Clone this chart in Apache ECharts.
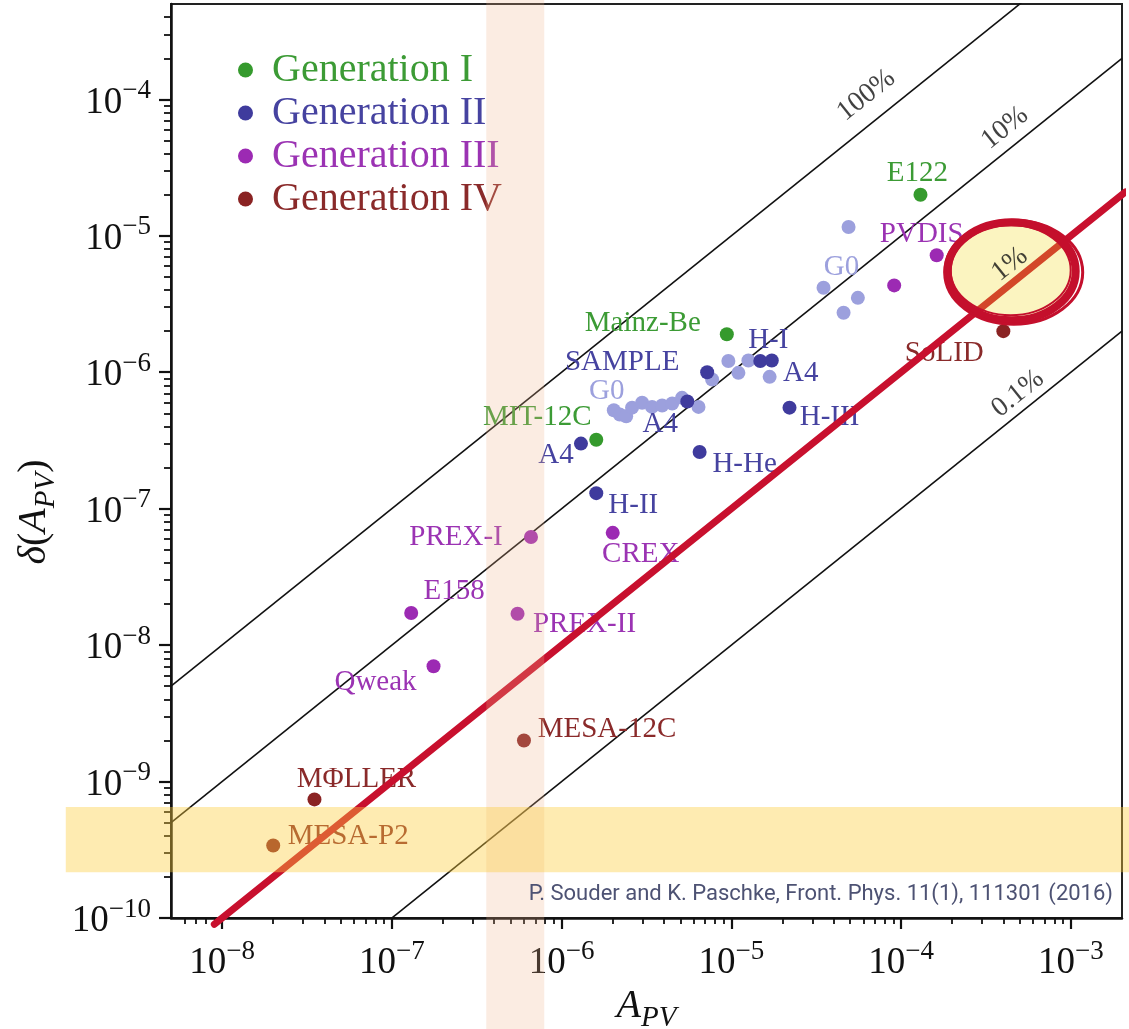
<!DOCTYPE html>
<html><head><meta charset="utf-8">
<script src="https://cdn.jsdelivr.net/npm/echarts@6/dist/echarts.min.js"></script>
<style>html,body{margin:0;padding:0;background:#fff}#c{width:1129px;height:1029px}</style>
</head><body><div id="c"></div>
<script>
// ---------------- data ----------------
const genI_names = ['E122', 'Mainz-Be', 'MIT-12C'];
const genI_x = [1.3e-4, 9.4e-6, 1.6e-6];
const genI_y = [2.0e-5, 1.9e-6, 3.2e-7];

const genII_names = ['SAMPLE', 'H-I', 'A4', 'A4', 'H-III', 'A4', 'H-He', 'H-II'];
const genII_x = [7.2e-6, 1.48e-5, 1.73e-5, 5.5e-6, 2.2e-5, 1.3e-6, 6.5e-6, 1.6e-6];
const genII_y = [1.0e-6, 1.21e-6, 1.22e-6, 6.1e-7, 5.5e-7, 3.0e-7, 2.6e-7, 1.3e-7];

const g0_names = ['', '', '', '', '', '', 'G0', '', '', '', '', '', '', '', '', '', 'G0', '', ''];
const g0_x = [9.6e-6, 1.26e-5, 1.10e-5, 7.7e-6, 1.68e-5, 6.4e-6, 2.03e-6, 2.2e-6, 2.4e-6, 2.6e-6, 2.98e-6, 3.41e-6, 3.91e-6, 4.48e-6, 5.12e-6, 4.9e-5, 3.49e-5, 5.56e-5, 4.58e-5];
const g0_y = [1.21e-6, 1.22e-6, 9.9e-7, 8.85e-7, 9.25e-7, 5.57e-7, 5.26e-7, 4.9e-7, 4.75e-7, 5.5e-7, 5.97e-7, 5.57e-7, 5.70e-7, 5.90e-7, 6.49e-7, 1.16e-5, 4.16e-6, 3.51e-6, 2.73e-6];

const genIII_names = ['PVDIS', '', 'PREX-I', 'CREX', 'E158', 'PREX-II', 'Qweak'];
const genIII_x = [1.62e-4, 9.1e-5, 6.6e-7, 2.0e-6, 1.3e-7, 5.5e-7, 1.76e-7];
const genIII_y = [7.2e-6, 4.33e-6, 6.2e-8, 6.65e-8, 1.72e-8, 1.70e-8, 7.0e-9];

const genIV_names = ['SoLID', 'MESA-12C', 'M\u03A6LLER', 'MESA-P2'];
const genIV_x = [4.0e-4, 6.0e-7, 3.5e-8, 2.0e-8];
const genIV_y = [2.0e-6, 2.0e-9, 7.4e-10, 3.4e-10];

// constant-relative-precision guide lines  delta(A)/A
const guideNames = ['100%', '10%', '1%', '0.1%'];
const guideRatios = [1, 0.1, 0.01, 0.001];

// highlighted regions
const peachBandX = [3.6e-7, 7.9e-7];
const yellowBandY = [2.16e-10, 6.52e-10];

// axes
const xMin = 5e-9, xMax = 2e-3, yMin = 1e-10, yMax = 5e-4;
const xTickValues = [1e-8, 1e-7, 1e-6, 1e-5, 1e-4, 1e-3];
const xTickExponents = [-8, -7, -6, -5, -4, -3];
const yTickValues = [1e-10, 1e-9, 1e-8, 1e-7, 1e-6, 1e-5, 1e-4];
const yTickExponents = [-10, -9, -8, -7, -6, -5, -4];
const legendNames = ['Generation I', 'Generation II', 'Generation III', 'Generation IV'];
const citation = 'P. Souder and K. Paschke, Front. Phys. 11(1), 111301 (2016)';

// ---------------- styling ----------------
const FONT = 'Liberation Serif';
const COL = { I: '#359a2d', II: '#3f3b9d', III: '#9c2ab3', IV: '#8a2323', G0: '#9ca0dd' };
const TXT = { I: '#3c9b35', II: '#4643a0', III: '#9b33b3', IV: '#8a2a2a', G0: '#9ca0dd' };
// label offsets (px, relative to the point) -- presentation only
const offI = [[-3, -21], [-84, -11], [-59, -22]];
const offII = [[-85, -10], [8, -21], [29, 13], [-27, 23], [40, 10], [-25, 12], [45, 12], [37, 12]];
const offG0 = g0_names.map(n => null); offG0[6] = [-7, -19]; offG0[16] = [18, -20];
const offIII = [[-15, -21], null, [-75, 0], [28, 22], [43, -22], [67, 11], [-58, 16]];
const offIV = [[-59, 22], [83, -11], [42, -20], [75, -9]];
const guideLabelX = [7.7e-5, 4.8e-4, 5.0e-4, 5.6e-4];
const guideLabelOff = [[0, -25], [0, -19], [0, -16], [0, -16.5]];   // in the rotated label frame
const ellipseCenter = [4.48e-4, 5.5e-6];

function points(names, xs, ys, offs, color) {
  return names.map((n, i) => {
    const it = { name: n, value: [xs[i], ys[i]] };
    if (offs[i]) it.label = { show: true, position: 'inside', offset: offs[i], formatter: n,
      color: color, fontFamily: FONT, fontSize: 29 };
    return it;
  });
}
function scatter(name, data, color, z) {
  return { type: 'scatter', name: name, data: data, symbol: 'circle', symbolSize: 14,
    itemStyle: { color: color, opacity: 1 }, z: z || 3, silent: true };
}
const minor = (lo, hi) => {
  const out = [];
  for (let e = -11; e <= -2; e++) for (let m = 2; m <= 9; m++) {
    const v = m * Math.pow(10, e);
    if (v > lo * 1.0001 && v < hi * 0.9999) out.push(v);
  }
  return out;
};
const xMinor = minor(xMin, xMax);
const yMinor = minor(yMin, yMax);

const supRich = {
  b: { fontFamily: FONT, fontSize: 37, lineHeight: 44, color: '#111', verticalAlign: 'bottom' },
  s: { fontFamily: FONT, fontSize: 27, lineHeight: 27, color: '#111', verticalAlign: 'top' }
};
function fmt(values, exps) {
  return function (v) {
    for (let i = 0; i < values.length; i++) {
      if (Math.abs(Math.log10(v) - Math.log10(values[i])) < 1e-6) return '{b|10}{s|\u2212' + (-exps[i]) + '}';
    }
    return '';
  };
}
const nameRich = {
  m: { fontFamily: FONT, fontStyle: 'italic', fontSize: 40, lineHeight: 46, color: '#111', verticalAlign: 'top' },
  p: { fontFamily: FONT, fontSize: 40, lineHeight: 46, color: '#111', verticalAlign: 'top' },
  sub: { fontFamily: FONT, fontStyle: 'italic', fontSize: 29, lineHeight: 29, color: '#111', verticalAlign: 'bottom' }
};
const axisCommon = (min, max) => ({ type: 'log', logBase: 10, min: min, max: max, splitLine: { show: false }, minorTick: { show: false }, minorSplitLine: { show: false } });
const TICK = '#111';

const series = [];
guideRatios.forEach((r, i) => {
  series.push({ type: 'line', name: 'guide' + guideNames[i], data: [[xMin, r * xMin], [xMax, r * xMax]],
    symbol: 'none', clip: true, silent: true, z: 1, lineStyle: { color: '#111', width: 1.6 } });
});
series.push(scatter('G0', points(g0_names, g0_x, g0_y, offG0, TXT.G0), COL.G0, 3));
series.push(scatter('Generation I', points(genI_names, genI_x, genI_y, offI, TXT.I), COL.I, 3));
series.push(scatter('Generation II', points(genII_names, genII_x, genII_y, offII, TXT.II), COL.II, 3));
series.push(scatter('Generation III', points(genIII_names, genIII_x, genIII_y, offIII, TXT.III), COL.III, 3));
series.push(scatter('Generation IV', points(genIV_names, genIV_x, genIV_y, offIV, TXT.IV), COL.IV, 3));
// hand-drawn emphasis of the 1% line
series.push({ type: 'line', name: 'emph', data: [[9e-9, 0.01 * 9e-9], [2.1e-3, 0.01 * 2.1e-3]], symbol: 'none', clip: false, silent: true, z: 5,
  lineStyle: { color: '#c8102e', width: 7, cap: 'round' } });
// circled 1% label
series.push({ type: 'custom', name: 'ring', silent: true, z: 6, clip: false, data: [ellipseCenter],
  renderItem: function (params, api) {
    const c = api.coord([api.value(0), api.value(1)]);
    return { type: 'group', children: [
      { type: 'ellipse', shape: { cx: c[0], cy: c[1], rx: 64, ry: 49 }, style: { fill: 'rgba(240,215,30,0.28)', stroke: '#c40f2c', lineWidth: 8 } },
      { type: 'ellipse', shape: { cx: c[0] + 2, cy: c[1] + 1, rx: 69, ry: 52 }, style: { fill: 'none', stroke: '#c40f2c', lineWidth: 3 } },
      { type: 'ellipse', shape: { cx: c[0] - 1, cy: c[1] - 1, rx: 60, ry: 45 }, style: { fill: 'none', stroke: '#c40f2c', lineWidth: 2 } }
    ] };
  } });
// guide labels
series.push({ type: 'scatter', name: 'guideLabels', symbolSize: 0, silent: true, z: 7,
  data: guideNames.map((n, i) => ({ value: [guideLabelX[i], guideRatios[i] * guideLabelX[i]],
    label: { show: true, position: 'inside', formatter: n, rotate: 38.7, offset: guideLabelOff[i],
      fontFamily: FONT, fontSize: 28, color: '#111' } })) });
// translucent bands
series.push({ type: 'custom', name: 'bands', silent: true, z: 8, clip: false,
  encode: { x: [0, 1], y: [2, 3] },
  data: [[peachBandX[0], peachBandX[1], 1e-11, 1e-3, 0], [1.2e-9, 5e-3, yellowBandY[0], yellowBandY[1], 1]],
  renderItem: function (params, api) {
    const p0 = api.coord([api.value(0), api.value(3)]);
    const p1 = api.coord([api.value(1), api.value(2)]);
    const fill = api.value(4) === 0 ? 'rgba(240,180,140,0.25)' : 'rgba(252,205,60,0.40)';
    return { type: 'rect', shape: { x: p0[0], y: p0[1], width: p1[0] - p0[0], height: p1[1] - p0[1] }, style: { fill: fill } };
  } });

const option = {
  animation: false,
  backgroundColor: '#fff',
  grid: { left: 171, right: 7, top: 4, bottom: 111, show: true, borderColor: '#222', borderWidth: 2, outerBoundsMode: 'none', containLabel: false },
  legend: { show: true, orient: 'vertical', left: 233, top: 45, itemWidth: 15, itemHeight: 15, itemGap: 3, icon: 'circle',
    selectedMode: false,
    data: legendNames.map((n, i) => ({ name: n, textStyle: { color: [TXT.I, TXT.II, TXT.III, TXT.IV][i] } })),
    textStyle: { fontFamily: FONT, fontSize: 40, lineHeight: 40, padding: [0, 0, 0, 14] } },
  xAxis: [
    Object.assign(axisCommon(xMin, xMax), {
      position: 'bottom',
      axisLine: { show: true, onZero: false, lineStyle: { color: '#111', width: 2.5 } },
      axisTick: { show: true, length: 11, lineStyle: { color: TICK, width: 2.2 }, customValues: xTickValues },
      axisLabel: { show: true, margin: 20, customValues: xTickValues, formatter: fmt(xTickValues, xTickExponents), rich: supRich },
      name: '{m|A}{sub|PV}', nameLocation: 'middle', nameGap: 56, nameTextStyle: { rich: nameRich }
    }),
    Object.assign(axisCommon(xMin, xMax), {
      position: 'bottom',
      axisLine: { show: false, onZero: false },
      axisTick: { show: true, length: 6, lineStyle: { color: TICK, width: 1.8 }, customValues: xMinor },
      axisLabel: { show: false }
    })
  ],
  yAxis: [
    Object.assign(axisCommon(yMin, yMax), {
      position: 'left',
      axisLine: { show: true, onZero: false, lineStyle: { color: '#111', width: 2.5 } },
      axisTick: { show: true, length: 12, lineStyle: { color: TICK, width: 2.2 }, customValues: yTickValues },
      axisLabel: { show: true, margin: 20, customValues: yTickValues, formatter: fmt(yTickValues, yTickExponents), rich: supRich },
      name: '{m|\u03B4}{p|(}{m|A}{sub|PV}{p|)}', nameLocation: 'middle', nameGap: 104, nameRotate: 90,
      nameTextStyle: { rich: nameRich, padding: [0, 102, 0, 0] }
    }),
    Object.assign(axisCommon(yMin, yMax), {
      position: 'left',
      axisLine: { show: false, onZero: false },
      axisTick: { show: true, length: 7, lineStyle: { color: TICK, width: 1.8 }, customValues: yMinor },
      axisLabel: { show: false }
    })
  ],
  graphic: [{ type: 'text', right: 16, top: 883, z: 100, silent: true,
    style: { text: citation, font: '22px Roboto', fill: '#4d5273' } }],
  series: series
};
const chart = echarts.init(document.getElementById('c'), null, { renderer: 'canvas' });
chart.setOption(option);
</script></body></html>
